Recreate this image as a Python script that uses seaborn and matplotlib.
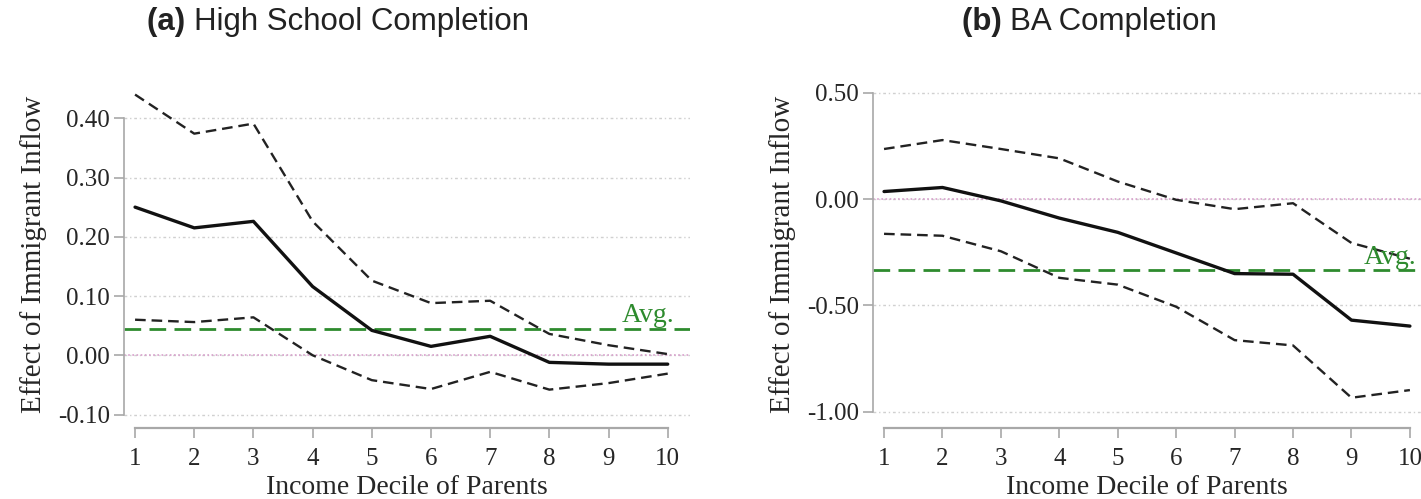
import numpy as np
import pandas as pd
import matplotlib
matplotlib.use("Agg")
import matplotlib.pyplot as plt
import seaborn as sns

# ── data ────────────────────────────────────────────────────────────────────
deciles = list(range(1, 11))

hs_est   = [0.250, 0.215, 0.226, 0.116, 0.042, 0.015, 0.032, -0.012, -0.015, -0.015]
hs_upper = [0.440, 0.374, 0.391, 0.226, 0.126, 0.088, 0.092, 0.036, 0.017, 0.002]
hs_lower = [0.060, 0.056, 0.064, 0.000, -0.042, -0.057, -0.028, -0.058, -0.047, -0.031]
hs_avg   = 0.045
hs_yticks = [-0.10, 0.00, 0.10, 0.20, 0.30, 0.40]

ba_est   = [0.036, 0.055, -0.008, -0.089, -0.156, -0.253, -0.350, -0.353, -0.569, -0.597]
ba_upper = [0.236, 0.278, 0.236, 0.192, 0.083, -0.003, -0.047, -0.019, -0.206, -0.280]
ba_lower = [-0.163, -0.172, -0.245, -0.370, -0.402, -0.506, -0.663, -0.688, -0.934, -0.898]
ba_avg   = -0.335
ba_yticks = [-1.00, -0.50, 0.00, 0.50]

sns.set_style("white")
plt.rcParams["font.family"] = ["Liberation Serif", "DejaVu Serif"]

fig = plt.figure(figsize=(14.21, 4.99), dpi=100)

panels = [
    dict(rect=[0.0873, 0.142, 0.398, 0.697], est=hs_est, up=hs_upper, lo=hs_lower,
         avg=hs_avg, yticks=hs_yticks, ylim=(-0.123, 0.464), xlim=(0.814, 10.37),
         tag="(a)", title="High School Completion", tx=0.1035),
    dict(rect=[0.6144, 0.142, 0.3856, 0.697], est=ba_est, up=ba_upper, lo=ba_lower,
         avg=ba_avg, yticks=ba_yticks, ylim=(-1.077, 0.559), xlim=(0.812, 10.19),
         tag="(b)", title="BA Completion", tx=0.677),
]

spine_col = "#a8a8a8"

for p in panels:
    ax = fig.add_axes(p["rect"])
    ax.set_xlim(*p["xlim"])
    ax.set_ylim(*p["ylim"])

    # grid + reference lines
    for yt in p["yticks"]:
        ax.axhline(yt, color="#d0d0d0", ls=(0, (2, 2, 1, 2)), lw=1.0, zorder=0)
    ax.axhline(0, color="#d8a0cc", ls=(0, (1, 1.5)), lw=1.2, zorder=1)

    df = pd.DataFrame({"decile": deciles, "est": p["est"], "up": p["up"], "lo": p["lo"]})
    sns.lineplot(data=df, x="decile", y="up", ax=ax, color="#222222", lw=1.7,
                 linestyle=(0, (4.5, 2.5)), zorder=3)
    sns.lineplot(data=df, x="decile", y="lo", ax=ax, color="#222222", lw=1.7,
                 linestyle=(0, (4.5, 2.5)), zorder=3)
    sns.lineplot(data=df, x="decile", y="est", ax=ax, color="#111111", lw=2.4, zorder=4)

    ax.axhline(p["avg"], color="#2e8b2e", ls=(0, (6, 3)), lw=2.0, zorder=2)
    ax.text(10.12, p["avg"] + 0.002 * (p["ylim"][1] - p["ylim"][0]),
            "Avg.", color="#2e8b2e", fontsize=20, ha="right", va="bottom", clip_on=False)

    # axes styling
    for s in ["top", "right"]:
        ax.spines[s].set_visible(False)
    ax.spines["left"].set_color(spine_col)
    ax.spines["bottom"].set_color(spine_col)
    ax.spines["left"].set_bounds(p["yticks"][0], p["yticks"][-1])
    ax.spines["bottom"].set_bounds(1, 10)
    ax.spines["left"].set_linewidth(1.2)
    ax.spines["bottom"].set_linewidth(1.6)

    ax.set_xticks(deciles)
    ax.set_yticks(p["yticks"])
    ax.set_yticklabels([f"{v:.2f}" for v in p["yticks"]])
    ax.tick_params(axis="y", direction="out", length=7, width=1.2, color=spine_col,
                   labelsize=18, pad=3, left=True)
    ax.tick_params(axis="x", direction="out", length=7, width=1.2, color=spine_col,
                   labelsize=18, pad=7, bottom=True)
    ax.set_xlabel("Income Decile of Parents", fontsize=20, labelpad=4)
    ax.set_ylabel("Effect of Immigrant Inflow", fontsize=21, labelpad=8)

    # title: bold tag + regular text
    t1 = fig.text(p["tx"], 0.955, p["tag"] + " ", fontsize=22.5, fontweight="bold",
                  family="Liberation Sans", color="#222222", ha="left", va="center")
    fig.canvas.draw()
    ax.annotate(p["title"], xy=(1, 0), xycoords=t1, va="bottom", ha="left",
                fontsize=22.5, family="Liberation Sans", color="#222222")

fig.savefig("out.png", dpi=100)
